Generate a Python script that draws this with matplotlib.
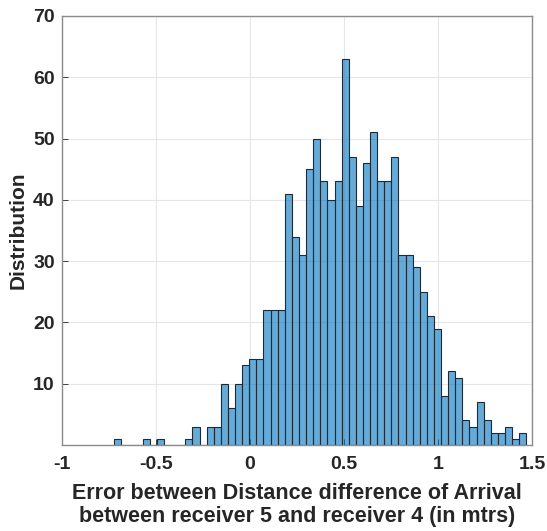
import numpy as np
import matplotlib.pyplot as plt

# histogram: bin range and counts
bin_lo = -0.7204
bin_hi = 1.4697
counts = [1, 0, 0, 0, 1, 0, 1, 0, 0, 0,
          1, 3, 0, 3, 3, 10, 6, 10, 13, 14,
          14, 22, 22, 22, 41, 34, 31, 45, 50, 43,
          40, 43, 63, 47, 39, 46, 51, 43, 43, 47,
          31, 31, 29, 25, 21, 19, 8, 12, 11, 4,
          3, 7, 4, 2, 2, 3, 1, 2]

x_ticks = [-1, -0.5, 0, 0.5, 1, 1.5]
x_ticklabels = ['-1', '-0.5', '0', '0.5', '1', '1.5']
y_ticks = [10, 20, 30, 40, 50, 60, 70]

plt.rcParams['font.family'] = ['Liberation Sans', 'DejaVu Sans']
plt.rcParams['font.weight'] = 'bold'

fig = plt.figure(figsize=(5.47, 5.31), dpi=100)
ax = fig.add_axes([0.1128, 0.162, 0.8598, 0.808])

edges = np.linspace(bin_lo, bin_hi, len(counts) + 1)
ax.hist(edges[:-1], bins=edges, weights=counts,
        facecolor=(0, 0.447, 0.741, 0.6), edgecolor='#1c2b3a', linewidth=0.8)

ax.set_xlim(-1, 1.5)
ax.set_ylim(0, 70)
ax.set_xticks(x_ticks)
ax.set_xticklabels(x_ticklabels)
ax.set_yticks(y_ticks)
ax.tick_params(direction='in', labelsize=14, colors='#262626', length=4, width=0.6, pad=5)
ax.tick_params(axis='x', pad=8)
for lab in ax.get_xticklabels() + ax.get_yticklabels():
    lab.set_fontweight('bold')

ax.grid(True, color='#e6e6e6', linewidth=0.8)
ax.set_axisbelow(True)
for s in ax.spines.values():
    s.set_color('#8c8c8c')
    s.set_linewidth(1.0)

ax.set_xlabel('Error between Distance difference of Arrival\nbetween receiver 5 and receiver 4 (in mtrs)',
              fontsize=15.5, fontweight='bold', color='#262626', labelpad=7, linespacing=1.15)
ax.set_ylabel('Distribution', fontsize=15, fontweight='bold', color='#262626', labelpad=4)

fig.savefig('out.png', dpi=100)
